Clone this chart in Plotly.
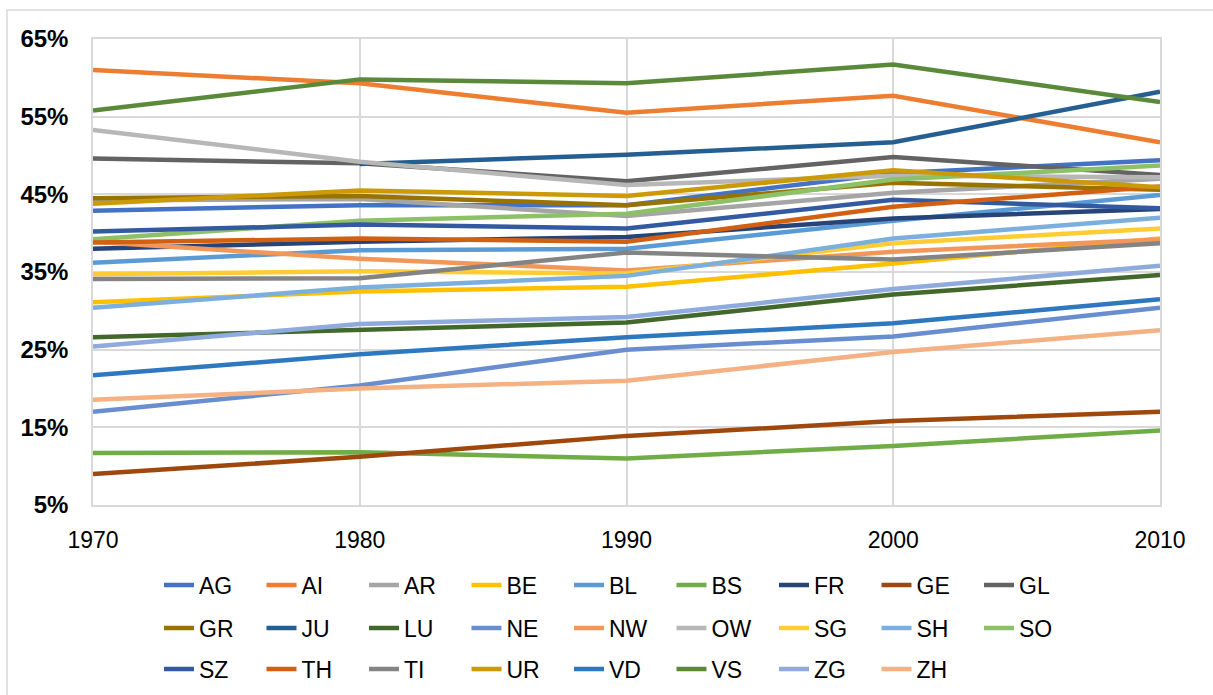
import plotly.graph_objects as go

years = [1970, 1980, 1990, 2000, 2010]

cantons = ["AG", "AI", "AR", "BE", "BL", "BS", "FR", "GE", "GL",
           "GR", "JU", "LU", "NE", "NW", "OW", "SG", "SH", "SO",
           "SZ", "TH", "TI", "UR", "VD", "VS", "ZG", "ZH"]

AG = [42.9, 43.6, 43.6, 47.7, 49.4]
AI = [61.0, 59.3, 55.5, 57.7, 51.7]
AR = [44.2, 44.4, 42.2, 45.2, 47.0]
BE = [31.1, 32.5, 33.1, 36.1, 39.3]
BL = [36.2, 37.8, 38.0, 41.6, 44.9]
BS = [11.7, 11.8, 11.0, 12.6, 14.6]
FR = [38.0, 38.9, 39.5, 41.9, 43.1]
GE = [9.0, 11.2, 13.9, 15.8, 17.0]
GL = [49.6, 49.0, 46.7, 49.8, 47.5]
GR = [44.5, 44.8, 43.6, 46.5, 45.6]
JU = [None, 48.9, 50.1, 51.7, 58.2]
LU = [26.6, 27.6, 28.5, 32.1, 34.6]
NE = [17.0, 20.4, 25.0, 26.7, 30.4]
NW = [38.9, 36.7, 35.2, 37.6, 39.2]
OW = [53.3, 49.2, 46.2, 47.4, 47.2]
SG = [34.7, 35.1, 34.8, 38.7, 40.6]
SH = [30.4, 33.0, 34.5, 39.3, 42.0]
SO = [39.2, 41.6, 42.5, 46.9, 48.7]
SZ = [40.2, 41.1, 40.6, 44.3, 43.2]
TH = [38.8, 39.3, 38.9, 43.4, 46.0]
TI = [34.1, 34.2, 37.5, 36.6, 38.7]
UR = [43.8, 45.5, 44.8, 48.1, 45.9]
VD = [21.7, 24.4, 26.6, 28.4, 31.5]
VS = [55.8, 59.8, 59.3, 61.7, 56.9]
ZG = [25.4, 28.3, 29.2, 32.8, 35.8]
ZH = [18.55, 20.0, 21.0, 24.7, 27.5]

series = [AG, AI, AR, BE, BL, BS, FR, GE, GL, GR, JU, LU, NE, NW, OW,
          SG, SH, SO, SZ, TH, TI, UR, VD, VS, ZG, ZH]

colors = ["#4472C4", "#ED7D31", "#A5A5A5", "#FFC000", "#5B9BD5", "#70AD47",
          "#264478", "#9E480E", "#636363", "#997300", "#255E91", "#43682B",
          "#698ED0", "#F1975A", "#B7B7B7", "#FFCD33", "#7CAFDD", "#8CC168",
          "#335AA1", "#D26012", "#848484", "#CC9A06", "#2E78C0", "#5A8A39",
          "#8FAADC", "#F4B183"]

y_ticks = [5, 15, 25, 35, 45, 55, 65]
y_tick_text = ["5%", "15%", "25%", "35%", "45%", "55%", "65%"]
x_ticks = [1970, 1980, 1990, 2000, 2010]

W, H = 1213, 695
L, R, T, B = 93, 53, 39, 190
pw, ph = W - L - R, H - T - B

FONT = "Liberation Sans, Arial, sans-serif"

fig = go.Figure()
legend_names = ["legend", "legend2", "legend3"]
for i, (name, vals, col) in enumerate(zip(cantons, series, colors)):
    row = 0 if i < 9 else (1 if i < 18 else 2)
    fig.add_trace(go.Scatter(
        x=years, y=vals, name=name, mode="lines",
        line=dict(color=col, width=4.5),
        legend=legend_names[row],
        hoverinfo="skip",
    ))


def py(pix_y):
    return (H - B - pix_y) / ph


def px(pix_x):
    return (pix_x - L) / pw


legend_common = dict(
    orientation="h", xanchor="left", yanchor="middle",
    font=dict(family=FONT, size=23, color="#000000"),
    entrywidth=57.5, entrywidthmode="pixels",
    itemwidth=30, bgcolor="rgba(0,0,0,0)",
    tracegroupgap=0,
)

fig.update_layout(
    width=W, height=H, autosize=False,
    margin=dict(l=L, r=R, t=T, b=B, autoexpand=False),
    paper_bgcolor="white", plot_bgcolor="white",
    showlegend=True,
    legend=dict(x=px(159), y=py(585), **legend_common),
    legend2=dict(x=px(159), y=py(628), **legend_common),
    legend3=dict(x=px(159), y=py(669), **legend_common),
    xaxis=dict(
        range=[1970, 2010], tickvals=x_ticks,
        showgrid=True, gridcolor="#D9D9D9", gridwidth=1.5,
        showline=True, linecolor="#D9D9D9", linewidth=1.5, mirror=True,
        zeroline=False, ticks="", ticklabelstandoff=14,
        tickfont=dict(family=FONT, size=23, color="#000000"),
    ),
    yaxis=dict(
        range=[5, 65], tickvals=y_ticks, ticktext=y_tick_text,
        showgrid=True, gridcolor="#D9D9D9", gridwidth=1.5,
        showline=True, linecolor="#D9D9D9", linewidth=1.5, mirror=True,
        zeroline=False, ticks="", ticklabelstandoff=18,
        tickfont=dict(family=FONT, size=24, color="#000000", weight="bold"),
    ),
    shapes=[dict(
        type="rect", xref="paper", yref="paper",
        x0=px(7), x1=px(W + 5), y0=py(H + 5), y1=py(10),
        line=dict(color="#D9D9D9", width=1.5), layer="below",
    )],
)

fig.write_html("out.html")
